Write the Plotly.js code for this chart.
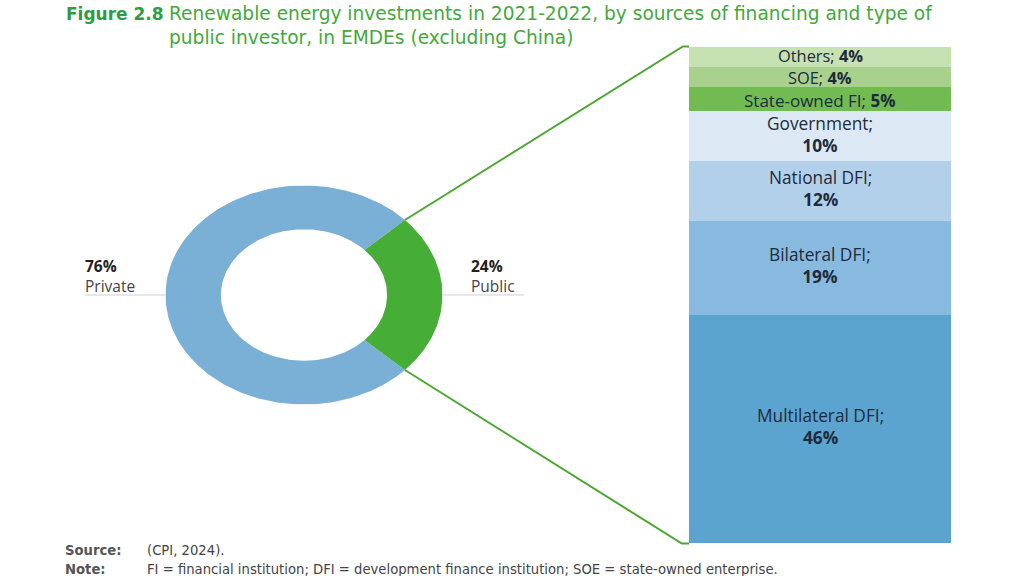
<!DOCTYPE html>
<html>
<head>
<meta charset="utf-8">
<script src="https://cdn.plot.ly/plotly-3.0.1.min.js"></script>
<style>html,body{margin:0;padding:0;background:#fff;}#chart{width:1024px;height:576px;}</style>
</head>
<body>
<div id="chart"></div>
<script>
// ---- data ----
const donutLabels = ["Private", "Public"];
const donutValues = [76, 24];
const publicTypes = ["Multilateral DFI", "Bilateral DFI", "National DFI", "Government", "State-owned FI", "SOE", "Others"];
const publicShares = [46, 19, 12, 10, 5, 4, 4];
const titleLines = ["Renewable energy investments in 2021-2022, by sources of financing and type of", "public investor, in EMDEs (excluding China)"];
const sourceText = "(CPI, 2024).";
const noteText = "FI = financial institution; DFI = development finance institution; SOE = state-owned enterprise.";

// ---- styles ----
const donutColors = {"Private": "#7bb0d6", "Public": "#46ad36"};
const barColors = ["#5ba4d0", "#88b9de", "#b3d0ea", "#dce9f5", "#72bb52", "#a8d18e", "#c6e1b2"];
const labelSizes = [17.3, 17.3, 17.3, 17.3, 17, 16.4, 16.4];
const labelShifts = [2, 2, 2, 2, -1, -0.5, 1.5];
const hole = 0.6;
const dx = [0.1616, 0.4321], dy = [0.2977, 0.678];
const bx = [689/1024, 951/1024], by = [1-543/576, 1-47/576];

// donut built from the shares: public slice centred on the right side
const total = donutValues.reduce((a,b)=>a+b,0);
const pubFrac = donutValues[1]/total;
const halfSpan = pubFrac*Math.PI;
function ring(a0, a1) {
  const xs=[], ys=[];
  const n = Math.max(8, Math.ceil(Math.abs(a1-a0)/(Math.PI/180)));
  for (let i=0;i<=n;i++){const a=a0+(a1-a0)*i/n; xs.push(Math.cos(a)); ys.push(Math.sin(a));}
  for (let i=n;i>=0;i--){const a=a0+(a1-a0)*i/n; xs.push(hole*Math.cos(a)); ys.push(hole*Math.sin(a));}
  xs.push(xs[0]); ys.push(ys[0]);
  return {xs, ys};
}
const privRing = ring(halfSpan, 2*Math.PI-halfSpan);
const pubRing = ring(-halfSpan, halfSpan);

const traces = [
  {type:'scatter', x:privRing.xs, y:privRing.ys, fill:'toself', fillcolor:donutColors["Private"], mode:'lines', line:{width:0, color:donutColors["Private"]}, hoverinfo:'skip', xaxis:'x', yaxis:'y'},
  {type:'scatter', x:pubRing.xs, y:pubRing.ys, fill:'toself', fillcolor:donutColors["Public"], mode:'lines', line:{width:0, color:donutColors["Public"]}, hoverinfo:'skip', xaxis:'x', yaxis:'y'}
];
const annotations = [];
let cum = 0;
publicTypes.forEach((t,i)=>{
  traces.push({
    type:'bar', x:['Public'], y:[publicShares[i]], xaxis:'x2', yaxis:'y2',
    marker:{color:barColors[i], line:{width:0}}, hoverinfo:'skip'
  });
  const mid = cum + publicShares[i]/2;
  cum += publicShares[i];
  const big = publicShares[i] >= 10;
  const txt = big ? t+';<br><b>'+publicShares[i]+'%</b>' : t+'; <b>'+publicShares[i]+'%</b>';
  annotations.push({xref:'x2', yref:'y2', x:0, y:mid, showarrow:false, text:txt,
    font:{family:'Open Sans, sans-serif', size:labelSizes[i], color:'#1e2b3c'}, borderpad:0, yshift:labelShifts[i]});
});

// connector geometry derived from the public slice angle and bar extent
function dp(a){return [dx[0]+(Math.cos(a)+1)/2*(dx[1]-dx[0]), dy[0]+(Math.sin(a)+1)/2*(dy[1]-dy[0])];}
const pTop = dp(halfSpan), pBot = dp(-halfSpan);
const lineCol = '#4aa832';
const midY = (dy[0]+dy[1])/2;
const shapes = [
  {type:'path', xref:'paper', yref:'paper', path:`M ${pTop[0]} ${pTop[1]} L ${bx[0]-0.006} ${by[1]+0.001} L ${bx[0]} ${by[1]+0.001}`, line:{color:lineCol, width:2}},
  {type:'path', xref:'paper', yref:'paper', path:`M ${pBot[0]} ${pBot[1]} L ${bx[0]-0.007} ${by[0]-0.001} L ${bx[0]} ${by[0]-0.001}`, line:{color:lineCol, width:2}},
  {type:'line', xref:'paper', yref:'paper', x0:85/1024, x1:dx[0], y0:midY, y1:midY, line:{color:'#cfcfcf', width:1}, layer:'below'},
  {type:'line', xref:'paper', yref:'paper', x0:dx[1], x1:524/1024, y0:midY, y1:midY, line:{color:'#cfcfcf', width:1}, layer:'below'}
];

const tFont = 'DejaVu Sans, sans-serif';
const P = (px,py,ya)=>({xref:'paper', yref:'paper', x:px/1024, y:1-py/576, showarrow:false, xanchor:'left', yanchor:ya||'middle', align:'left', borderpad:0});
const sFont = {family:'DejaVu Sans, sans-serif', size:13.2, color:'#444'};
annotations.push(
  Object.assign(P(65,14), {text:'<b>Figure 2.8</b>', font:{family:tFont, size:17, color:'#2e9b45'}}),
  Object.assign(P(168,2,'top'), {text:titleLines[0]+'<br>'+titleLines[1], font:{family:tFont, size:18.6, color:'#45a83c'}}),
  Object.assign(P(84,276), {text:'<b>'+donutValues[0]+'%</b><br><span style="color:#444">'+donutLabels[0]+'</span>', font:{family:'Open Sans, sans-serif', size:15.5, color:'#222'}}),
  Object.assign(P(470,276), {text:'<b>'+donutValues[1]+'%</b><br><span style="color:#444">'+donutLabels[1]+'</span>', font:{family:'Open Sans, sans-serif', size:15.5, color:'#222'}}),
  Object.assign(P(64,550), {text:'<b>Source:</b>', font:Object.assign({}, sFont, {color:'#555'})}),
  Object.assign(P(64,569), {text:'<b>Note:</b>', font:Object.assign({}, sFont, {color:'#555'})}),
  Object.assign(P(146,550), {text:sourceText, font:sFont}),
  Object.assign(P(146,569), {text:noteText, font:sFont})
);

const layout = {
  width:1024, height:576, margin:{l:0,r:0,t:0,b:0}, paper_bgcolor:'#fff', plot_bgcolor:'rgba(0,0,0,0)',
  showlegend:false, barmode:'stack', bargap:0,
  xaxis:{domain:dx, range:[-1,1], visible:false, fixedrange:true},
  yaxis:{domain:dy, range:[-1,1], visible:false, fixedrange:true},
  xaxis2:{domain:bx, range:[-0.5,0.5], visible:false, anchor:'y2', type:'category'},
  yaxis2:{domain:by, range:[0,100], visible:false, anchor:'x2'},
  shapes, annotations
};
Plotly.newPlot('chart', traces, layout, {displayModeBar:false, staticPlot:true});
</script>
</body>
</html>
